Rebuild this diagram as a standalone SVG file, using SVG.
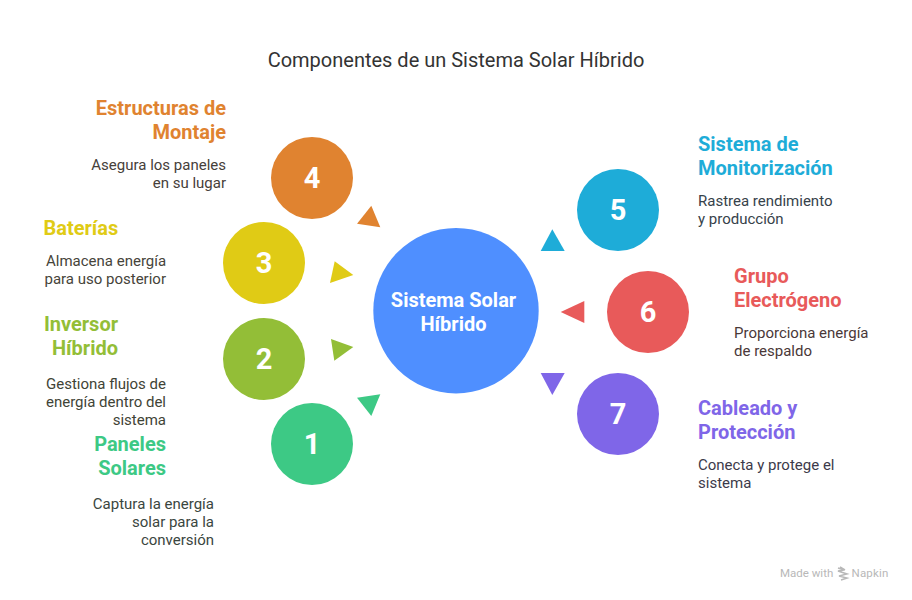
<svg xmlns="http://www.w3.org/2000/svg" width="912" height="600" viewBox="0 0 912 600">
<style>
text{font-family:Roboto,"Liberation Sans",sans-serif}
.t{font-size:20px;font-weight:700}
.d{font-size:15px}
.n{font-size:29px;font-weight:700;fill:#fff;text-anchor:middle}
.e{text-anchor:end}
</style>
<rect width="912" height="600" fill="#fff"/>
<text x="456" y="66.500" font-size="20" fill="#333" text-anchor="middle">Componentes de un Sistema Solar Híbrido</text>
<g id="connectors">
<polygon points="371.3,205.7 357,223.7 380.3,227.3" fill="#e08330"/>
<polygon points="334.7,261.3 353.3,275 330,283" fill="#e0cb15"/>
<polygon points="331,339 353.3,347 334.3,360.7" fill="#93be37"/>
<polygon points="357,397.7 380.3,394.3 371.3,416" fill="#3dc985"/>
<polygon points="552.3,229.3 540.7,251 564.7,251" fill="#1eacd8"/>
<polygon points="560.7,312 584.3,301 584.3,323" fill="#e85a5a"/>
<polygon points="540.7,373 564.7,373 552.3,395" fill="#7f66e8"/>
</g>
<g id="center"><circle cx="456" cy="310.7" r="82.7" fill="#4f8fff"/>
<text x="453.500" y="307" font-size="20" font-weight="700" fill="#fff" text-anchor="middle">Sistema Solar</text>
<text x="453.500" y="331" font-size="20" font-weight="700" fill="#fff" text-anchor="middle">Híbrido</text></g>
<g id="node4"><circle cx="312" cy="178" r="41" fill="#e08330"/><text class="n" x="312" y="188">4</text>
<text class="t e" x="226" y="115" fill="#e08330">Estructuras de</text><text class="t e" x="226" y="139" fill="#e08330">Montaje</text>
<text class="d e" x="226" y="170" fill="#46403a">Asegura los paneles</text><text class="d e" x="226" y="188" fill="#46403a">en su lugar</text></g>
<g id="node3"><circle cx="264" cy="263" r="41" fill="#e0cb15"/><text class="n" x="264" y="273">3</text>
<text class="t" x="43.500" y="235" fill="#e0cb15">Baterías</text>
<text class="d" x="46" y="266" fill="#46443a">Almacena energía</text><text class="d" x="44.500" y="284" fill="#46443a">para uso posterior</text></g>
<g id="node2"><circle cx="264" cy="359" r="41" fill="#93be37"/><text class="n" x="264" y="369">2</text>
<text class="t e" x="118" y="331" fill="#93be37">Inversor</text><text class="t e" x="118" y="355" fill="#93be37">Híbrido</text>
<text class="d e" x="166" y="389" fill="#3f4436">Gestiona flujos de</text><text class="d e" x="166" y="407" fill="#3f4436">energía dentro del</text><text class="d e" x="166" y="425" fill="#3f4436">sistema</text></g>
<g id="node1"><circle cx="312" cy="444" r="41" fill="#3dc985"/><text class="n" x="312" y="454">1</text>
<text class="t e" x="166" y="451" fill="#3dc985">Paneles</text><text class="t e" x="166" y="475" fill="#3dc985">Solares</text>
<text class="d e" x="214" y="509" fill="#3a4640">Captura la energía</text><text class="d e" x="214" y="527" fill="#3a4640">solar para la</text><text class="d e" x="214" y="545" fill="#3a4640">conversión</text></g>
<g id="node5"><circle cx="618" cy="210" r="41" fill="#1eacd8"/><text class="n" x="618" y="220">5</text>
<text class="t" x="698" y="151" fill="#1eacd8">Sistema de</text><text class="t" x="698" y="175" fill="#1eacd8">Monitorización</text>
<text class="d" x="698" y="206" fill="#36424a">Rastrea rendimiento</text><text class="d" x="698" y="224" fill="#36424a">y producción</text></g>
<g id="node6"><circle cx="648" cy="312" r="41" fill="#e85a5a"/><text class="n" x="648" y="322">6</text>
<text class="t" x="734" y="283" fill="#e85a5a">Grupo</text><text class="t" x="734" y="307" fill="#e85a5a">Electrógeno</text>
<text class="d" x="734" y="338" fill="#4a3838">Proporciona energía</text><text class="d" x="734" y="356" fill="#4a3838">de respaldo</text></g>
<g id="node7"><circle cx="618" cy="414" r="41" fill="#7f66e8"/><text class="n" x="618" y="424">7</text>
<text class="t" x="698" y="415" fill="#7f66e8">Cableado y</text><text class="t" x="698" y="439" fill="#7f66e8">Protección</text>
<text class="d" x="698" y="470" fill="#3c3a4a">Conecta y protege el</text><text class="d" x="698" y="488" fill="#3c3a4a">sistema</text></g>
<g id="watermark"><text x="780" y="577" font-size="11.500" fill="#b8b8b8">Made with</text>
<path d="M838 568l6 2-6 1 9 3-8 2 8 2-6 2M840 567l5 3" fill="none" stroke="#b8b8b8" stroke-width="1.500"/>
<text x="851.500" y="577" font-size="11.500" fill="#b8b8b8" letter-spacing=".2">Napkin</text></g>
</svg>
